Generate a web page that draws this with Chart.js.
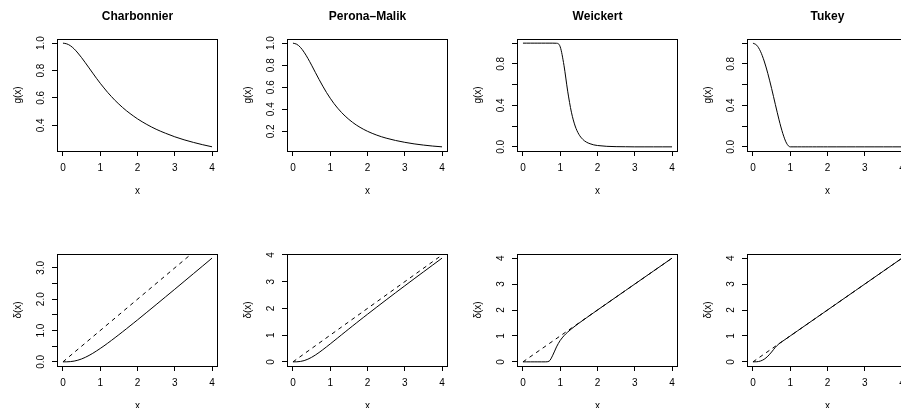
<!DOCTYPE html>
<html>
<head>
<meta charset="utf-8">
<script src="https://cdn.jsdelivr.net/npm/chart.js@4.4.1/dist/chart.umd.min.js"></script>
<style>
  body { margin: 0; background: #fff; }
  #wrap { position: relative; width: 901px; height: 408px; overflow: hidden; background: #fff; }
  canvas { position: absolute; }
</style>
</head>
<body>
<div id="wrap"></div>
<script>
// shared x grid
const xs = [0, 0.1, 0.2, 0.3, 0.4, 0.5, 0.6, 0.7, 0.8, 0.9, 1.0, 1.1, 1.2, 1.3, 1.4, 1.5, 1.6, 1.7, 1.8, 1.9, 2.0,
            2.25, 2.5, 2.75, 3.0, 3.25, 3.5, 3.75, 4.0];

// top row: g(x)
const gCharbonnier = [1.000, 0.995, 0.981, 0.958, 0.928, 0.894, 0.857, 0.819, 0.781, 0.743, 0.707, 0.673, 0.640, 0.610,
                      0.581, 0.555, 0.530, 0.507, 0.486, 0.466, 0.447, 0.406, 0.371, 0.342, 0.316, 0.294, 0.275, 0.258, 0.243];
const gPerona = [1.000, 0.990, 0.962, 0.917, 0.862, 0.800, 0.735, 0.671, 0.610, 0.552, 0.500, 0.452, 0.410, 0.372,
                 0.338, 0.308, 0.281, 0.257, 0.236, 0.217, 0.200, 0.165, 0.138, 0.117, 0.100, 0.086, 0.075, 0.066, 0.059];
const gWeickert = [1, 1, 1, 1, 1, 1, 1, 1, 1, 0.999, 0.964, 0.787, 0.537, 0.334,
                   0.201, 0.121, 0.074, 0.046, 0.030, 0.019, 0.013, 0.005, 0.002, 0.001, 0, 0, 0, 0, 0];
const gTukey = [1.000, 0.980, 0.922, 0.828, 0.706, 0.563, 0.410, 0.260, 0.130, 0.036, 0, 0, 0, 0,
                0, 0, 0, 0, 0, 0, 0, 0, 0, 0, 0, 0, 0, 0, 0];

// bottom row: delta(x)
const dCharbonnier = [0, 0.001, 0.008, 0.024, 0.053, 0.093, 0.144, 0.205, 0.273, 0.348, 0.427, 0.509, 0.595, 0.684,
                      0.774, 0.866, 0.959, 1.053, 1.148, 1.243, 1.339, 1.582, 1.826, 2.072, 2.318, 2.566, 2.814, 3.062, 3.311];
const dPerona = [0, 0.002, 0.015, 0.047, 0.099, 0.169, 0.254, 0.350, 0.453, 0.561, 0.671, 0.783, 0.895, 1.008,
                 1.120, 1.232, 1.343, 1.454, 1.564, 1.673, 1.782, 2.051, 2.318, 2.583, 2.845, 3.106, 3.365, 3.624, 3.881];
const dWeickert = [0, 0, 0, 0, 0, 0, 0, 0.025, 0.256, 0.577, 0.826, 1.006, 1.148, 1.270,
                   1.382, 1.489, 1.593, 1.695, 1.797, 1.898, 1.999, 2.249, 2.500, 2.750, 3.000, 3.250, 3.500, 3.750, 4.000];
const dTukey = [0, 0.004, 0.031, 0.100, 0.219, 0.380, 0.558, 0.700, 0.800, 0.900, 1.000, 1.100, 1.200, 1.300,
                1.400, 1.500, 1.600, 1.700, 1.800, 1.900, 2.000, 2.250, 2.500, 2.750, 3.000, 3.250, 3.500, 3.750, 4.000];

// dashed identity line
const diagX = [0, 4];
const diagY = [0, 4];

// axis ticks
const xTicks = [0, 1, 2, 3, 4];
const xTickLabels = ['0', '1', '2', '3', '4'];
const ticksCharbTop = [0.4, 0.6, 0.8, 1.0];
const labelsCharbTop = ['0.4', '0.6', '0.8', '1.0'];
const ticksPeronaTop = [0.2, 0.4, 0.6, 0.8, 1.0];
const labelsPeronaTop = ['0.2', '0.4', '0.6', '0.8', '1.0'];
const ticksUnitTop = [0, 0.2, 0.4, 0.6, 0.8, 1.0];
const labelsUnitTop = ['0.0', '', '0.4', '', '0.8', ''];
const ticksCharbBot = [0, 0.5, 1, 1.5, 2, 2.5, 3];
const labelsCharbBot = ['0.0', '', '1.0', '', '2.0', '', '3.0'];
const ticksBot = [0, 1, 2, 3, 4];
const labelsBot = ['0', '1', '2', '3', '4'];

const titles = ['Charbonnier', 'Perona–Malik', 'Weickert', 'Tukey'];

const panels = [
  { row: 0, col: 0, title: titles[0], ys: gCharbonnier, ylim: [0.2122, 1.0303], yt: ticksCharbTop, yl: labelsCharbTop, ylab: 'g(x)' },
  { row: 0, col: 1, title: titles[1], ys: gPerona, ylim: [0.0212, 1.0376], yt: ticksPeronaTop, yl: labelsPeronaTop, ylab: 'g(x)' },
  { row: 0, col: 2, title: titles[2], ys: gWeickert, ylim: [-0.04, 1.04], yt: ticksUnitTop, yl: labelsUnitTop, ylab: 'g(x)' },
  { row: 0, col: 3, title: titles[3], ys: gTukey, ylim: [-0.04, 1.04], yt: ticksUnitTop, yl: labelsUnitTop, ylab: 'g(x)' },
  { row: 1, col: 0, title: '', ys: dCharbonnier, ylim: [-0.1324, 3.4429], yt: ticksCharbBot, yl: labelsCharbBot, ylab: 'δ(x)', diag: true },
  { row: 1, col: 1, title: '', ys: dPerona, ylim: [-0.1552, 4.0363], yt: ticksBot, yl: labelsBot, ylab: 'δ(x)', diag: true },
  { row: 1, col: 2, title: '', ys: dWeickert, ylim: [-0.16, 4.16], yt: ticksBot, yl: labelsBot, ylab: 'δ(x)', diag: true },
  { row: 1, col: 3, title: '', ys: dTukey, ylim: [-0.16, 4.16], yt: ticksBot, yl: labelsBot, ylab: 'δ(x)', diag: true }
];

const FONT = '"Liberation Sans", Arial, Helvetica, sans-serif';
const CELL_W = 230, CELL_H = 215;

// R-style box, titles and axis text
const rDeco = {
  id: 'rDeco',
  afterDraw(chart, args, o) {
    const { ctx, chartArea: a } = chart;
    const sx = chart.scales.x, sy = chart.scales.y;
    ctx.save();
    ctx.strokeStyle = '#000';
    ctx.lineWidth = 1;
    ctx.strokeRect(a.left + 0.5, a.top + 0.5, a.right - a.left - 1, a.bottom - a.top);

    ctx.fillStyle = '#000';
    ctx.font = '10px ' + FONT;
    ctx.textAlign = 'center';
    ctx.textBaseline = 'alphabetic';
    xTicks.forEach((v, i) => ctx.fillText(xTickLabels[i], sx.getPixelForValue(v), 171));
    ctx.fillText('x', (a.left + a.right) / 2, 193.5);

    o.yt.forEach((v, i) => {
      if (!o.yl[i]) return;
      ctx.save();
      ctx.translate(41.5, sy.getPixelForValue(v));
      ctx.rotate(-Math.PI / 2);
      ctx.textBaseline = 'middle';
      ctx.fillText(o.yl[i], 0, 0);
      ctx.restore();
    });

    ctx.save();
    ctx.translate(18.5, (a.top + a.bottom) / 2);
    ctx.rotate(-Math.PI / 2);
    ctx.textBaseline = 'middle';
    ctx.fillText(o.ylab, 0, 0);
    ctx.restore();

    if (o.title) {
      ctx.font = 'bold 12px ' + FONT;
      ctx.textBaseline = 'middle';
      ctx.fillText(o.title, (a.left + a.right) / 2, 17);
    }
    ctx.restore();
  }
};

const wrap = document.getElementById('wrap');

panels.forEach(p => {
  const cv = document.createElement('canvas');
  cv.width = CELL_W;
  cv.height = CELL_H;
  cv.style.left = (p.col * CELL_W) + 'px';
  cv.style.top = (p.row * CELL_H) + 'px';
  wrap.appendChild(cv);

  const datasets = [{
    data: xs.map((x, i) => ({ x: x, y: p.ys[i] })),
    borderColor: '#000',
    borderWidth: 1,
    pointRadius: 0,
    cubicInterpolationMode: 'monotone',
    fill: false
  }];
  if (p.diag) {
    datasets.push({
      data: diagX.map((x, i) => ({ x: x, y: diagY[i] })),
      borderColor: '#000',
      borderWidth: 1,
      borderDash: [4, 4],
      pointRadius: 0,
      fill: false
    });
  }

  new Chart(cv, {
    type: 'line',
    data: { datasets: datasets },
    options: {
      responsive: false,
      animation: false,
      devicePixelRatio: 1,
      layout: { padding: { top: 39, right: 12, left: 0, bottom: 0 } },
      plugins: {
        legend: { display: false },
        tooltip: { enabled: false },
        rDeco: { title: p.title, ylab: p.ylab, yt: p.yt, yl: p.yl }
      },
      scales: {
        x: {
          type: 'linear', min: -0.16, max: 4.16,
          afterBuildTicks: s => { s.ticks = xTicks.map(v => ({ value: v })); },
          afterFit: s => { s.height = 64; },
          ticks: { display: false },
          grid: { drawOnChartArea: false, color: '#000', tickLength: 5 },
          border: { display: false }
        },
        y: {
          type: 'linear', min: p.ylim[0], max: p.ylim[1],
          afterBuildTicks: s => { s.ticks = p.yt.map(v => ({ value: v })); },
          afterFit: s => { s.width = 57; },
          ticks: { display: false },
          grid: { drawOnChartArea: false, color: '#000', tickLength: 5 },
          border: { display: false }
        }
      }
    },
    plugins: [rDeco]
  });
});
</script>
</body>
</html>
